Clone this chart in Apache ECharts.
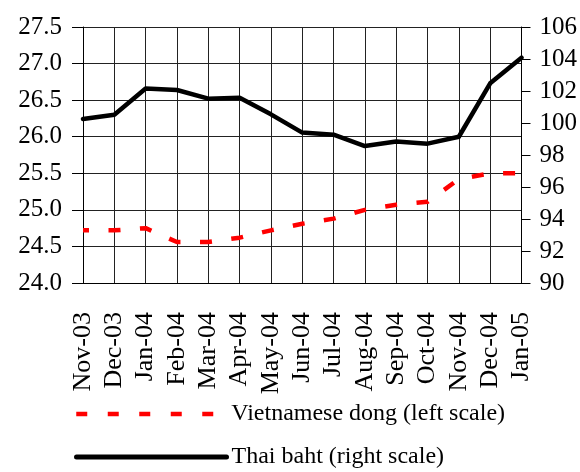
<!DOCTYPE html>
<html>
<head>
<meta charset="utf-8">
<script src="https://cdn.jsdelivr.net/npm/echarts@6/dist/echarts.min.js"></script>
<style>
  html, body { margin: 0; padding: 0; background: #fff; }
  #chart { width: 580px; height: 472px; }
</style>
</head>
<body>
<div id="chart"></div>
<script>
var months = ['Nov-03', 'Dec-03', 'Jan-04', 'Feb-04', 'Mar-04', 'Apr-04', 'May-04', 'Jun-04',
              'Jul-04', 'Aug-04', 'Sep-04', 'Oct-04', 'Nov-04', 'Dec-04', 'Jan-05'];
// thousand dong per USD (left scale)
var dong = [24.72, 24.72, 24.75, 24.56, 24.56, 24.62, 24.72, 24.81,
            24.88, 25.00, 25.07, 25.11, 25.42, 25.50, 25.50];
// index (right scale)
var baht = [100.25, 100.52, 102.15, 102.06, 101.52, 101.58, 100.54, 99.40,
            99.27, 98.56, 98.85, 98.71, 99.14, 102.48, 104.08];

var serif = '"Liberation Serif", "Times New Roman", serif';

function legendAt(name, top, width) {
    return {
        left: 74,
        top: top,
        padding: 0,
        itemWidth: 150,
        itemHeight: 14,
        itemStyle: { opacity: 0 },
        // 31.5 = one full dash period, i.e. no visible offset
        lineStyle: { width: width, type: [11, 20.5], dashOffset: 31.5 },
        textStyle: { fontFamily: serif, fontSize: 24, color: '#000' },
        data: [name]
    };
}

var chart = echarts.init(document.getElementById('chart'));
chart.setOption({
    animation: false,
    backgroundColor: '#fff',
    grid: { left: 83, right: 57, top: 27, bottom: 189, containLabel: false },
    legend: [
        legendAt('Vietnamese dong (left scale)', 402, 4.5),
        {
            left: 74,
            top: 445,
            padding: 0,
            itemWidth: 150,
            itemHeight: 14,
            itemStyle: { opacity: 0 },
            lineStyle: { width: 5 },
            textStyle: { fontFamily: serif, fontSize: 24, color: '#000' },
            data: ['Thai baht (right scale)']
        }
    ],
    xAxis: {
        type: 'category',
        data: months,
        boundaryGap: false,
        axisLine: { lineStyle: { color: '#000', width: 1 } },
        axisTick: { show: false },
        splitLine: { show: true, lineStyle: { color: '#222', width: 1 } },
        axisLabel: {
            rotate: 90,
            margin: 29,
            interval: 0,
            fontFamily: serif,
            fontSize: 26,
            color: '#000'
        }
    },
    yAxis: [{
        type: 'value',
        min: 24,
        max: 27.5,
        interval: 0.5,
        position: 'left',
        axisLine: { show: true, lineStyle: { color: '#000', width: 1 } },
        axisTick: { show: true, length: 11, lineStyle: { color: '#000' } },
        splitLine: { show: true, lineStyle: { color: '#222', width: 1 } },
        axisLabel: {
            margin: 21,
            fontFamily: serif,
            fontSize: 25,
            color: '#000',
            formatter: function (v) { return v.toFixed(1); }
        }
    }, {
        type: 'value',
        min: 90,
        max: 106,
        interval: 2,
        position: 'right',
        axisLine: { show: true, lineStyle: { color: '#000', width: 1 } },
        axisTick: { show: true, length: 9, lineStyle: { color: '#000' } },
        splitLine: { show: false },
        axisLabel: {
            margin: 18,
            fontFamily: serif,
            fontSize: 25,
            color: '#000'
        }
    }],
    series: [{
        name: 'Vietnamese dong (left scale)',
        type: 'line',
        yAxisIndex: 0,
        data: dong,
        symbol: 'none',
        lineStyle: { color: '#ff0000', width: 4.5, type: [12, 19.5], dashOffset: 6, cap: 'butt' },
        itemStyle: { color: '#ff0000' }
    }, {
        name: 'Thai baht (right scale)',
        type: 'line',
        yAxisIndex: 1,
        data: baht,
        symbol: 'none',
        lineStyle: { color: '#000', width: 4.5, cap: 'round', join: 'round' },
        itemStyle: { color: '#000' }
    }]
});
</script>
</body>
</html>
